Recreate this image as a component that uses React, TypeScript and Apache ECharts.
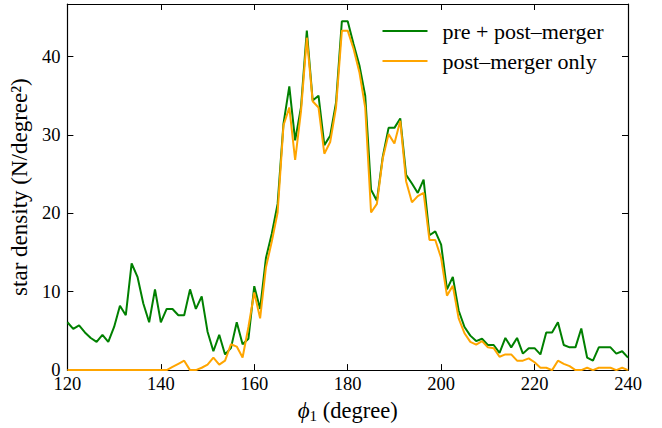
import React, { useEffect, useRef } from "react";
import * as echarts from "echarts";

// phi_1 bin positions (degree)
const phi = [
  120, 121.25, 122.5, 123.75, 125, 126.25, 127.5, 128.75, 130, 131.25,
  132.5, 133.75, 135, 136.25, 137.5, 138.75, 140, 141.25, 142.5, 143.75,
  145, 146.25, 147.5, 148.75, 150, 151.25, 152.5, 153.75, 155, 156.25,
  157.5, 158.75, 160, 161.25, 162.5, 163.75, 165, 166.25, 167.5, 168.75,
  170, 171.25, 172.5, 173.75, 175, 176.25, 177.5, 178.75, 180, 181.25,
  182.5, 183.75, 185, 186.25, 187.5, 188.75, 190, 191.25, 192.5, 193.75,
  195, 196.25, 197.5, 198.75, 200, 201.25, 202.5, 203.75, 205, 206.25,
  207.5, 208.75, 210, 211.25, 212.5, 213.75, 215, 216.25, 217.5, 218.75,
  220, 221.25, 222.5, 223.75, 225, 226.25, 227.5, 228.75, 230, 231.25,
  232.5, 233.75, 235, 236.25, 237.5, 238.75, 240,
];

// star density, pre + post-merger
const prePost = [
  6.1, 5.25, 5.7, 4.8, 4.1, 3.6, 4.5, 3.6, 5.5, 8.2,
  7.0, 13.6, 11.9, 8.5, 6.1, 10.3, 6.1, 7.8, 7.8, 7.0,
  7.0, 10.3, 7.8, 9.4, 4.9, 2.4, 4.5, 2.0, 2.8, 6.1,
  3.3, 4.0, 10.7, 7.8, 14.3, 17.4, 21.2, 31.4, 36.2, 29.3,
  33.5, 43.3, 34.4, 35.0, 28.7, 29.9, 34.1, 44.5, 44.5, 41.6,
  38.9, 35.0, 23.0, 21.6, 27.2, 30.9, 30.9, 32.1, 24.9, 23.8,
  22.6, 24.3, 17.2, 17.7, 16.0, 10.3, 11.9, 7.6, 5.5, 4.4,
  3.7, 4.0, 3.2, 3.2, 2.2, 4.1, 2.9, 4.1, 2.1, 2.8,
  2.8, 2.0, 4.8, 4.8, 6.1, 3.2, 2.9, 2.9, 5.3, 1.6,
  1.2, 2.9, 2.9, 2.9, 2.1, 2.4, 1.6,
];

// star density, post-merger only
const postOnly = [
  0, 0, 0, 0, 0, 0, 0, 0, 0, 0,
  0, 0, 0, 0, 0, 0, 0, 0, 0.4, 0.8,
  1.2, 0, 0, 0.3, 0.7, 1.6, 0.7, 1.2, 3.3, 3.0,
  1.6, 5.5, 9.9, 6.6, 13.1, 16.4, 20.1, 31.2, 33.5, 26.8,
  33.0, 42.4, 34.3, 33.5, 27.6, 29.1, 33.5, 43.3, 43.3, 41.0,
  38.0, 33.5, 20.1, 21.2, 27.0, 30.1, 28.9, 31.8, 24.1, 21.4,
  22.2, 22.6, 16.6, 16.6, 14.3, 9.5, 10.75, 6.6, 4.7, 3.6,
  3.25, 3.7, 2.9, 2.8, 1.7, 2.0, 2.0, 1.2, 1.2, 1.5,
  1.0, 0.3, 0.3, 0, 1.2, 0.8, 0.5, 0, 0, 0.3,
  0, 0.3, 0.3, 0.3, 0, 0.3, 0,
];

const seriesNames = ["pre + post\u2013merger", "post\u2013merger only"];
const seriesColors = ["#008000", "#FFA500"];

const xRange = [120, 240];
const xStep = 20;
const yRange = [0, 46.7];
const yStep = 10;

const FONT = "Liberation Serif";

export default function App() {
  const ref = useRef<HTMLDivElement>(null);

  useEffect(() => {
    if (!ref.current) return;
    document.body.style.margin = "0";
    const chart = echarts.init(ref.current, null, { renderer: "svg" });

    const axisLine = { show: true, onZero: false, lineStyle: { color: "#000", width: 1.2 } };
    const axisTick = { show: true, inside: true, length: 6, lineStyle: { color: "#000", width: 1 } };
    const tickLabel = { color: "#000", fontSize: 18.5, fontFamily: FONT, lineHeight: 14 };

    const option: any = {
      animation: false,
      backgroundColor: "#fff",
      textStyle: { fontFamily: FONT },
      grid: { left: 67, top: 4, width: 561, height: 374, containLabel: false },
      xAxis: [
        {
          type: "value",
          position: "bottom",
          min: xRange[0],
          max: xRange[1],
          interval: xStep,
          axisLine,
          axisTick,
          splitLine: { show: false },
          axisLabel: { ...tickLabel, margin: 7 },
          name: "{i|\u03d5}{s|1} (degree)",
          nameLocation: "middle",
          nameGap: 23,
          nameTextStyle: {
            color: "#000",
            fontSize: 22.5,
            fontFamily: FONT,
            rich: {
              i: { fontSize: 23, fontStyle: "italic", fontFamily: FONT, color: "#000", lineHeight: 26 },
              s: {
                fontSize: 15,
                fontFamily: FONT,
                color: "#000",
                lineHeight: 15,
                verticalAlign: "bottom",
                padding: [8, 0, 0, 0],
              },
            },
          },
        },
        {
          type: "value",
          position: "top",
          min: xRange[0],
          max: xRange[1],
          interval: xStep,
          axisLine,
          axisTick,
          splitLine: { show: false },
          axisLabel: { show: false },
        },
      ],
      yAxis: [
        {
          type: "value",
          position: "left",
          min: yRange[0],
          max: yRange[1],
          interval: yStep,
          axisLine,
          axisTick,
          splitLine: { show: false },
          axisLabel: {
            ...tickLabel,
            margin: 7,
            formatter: (v: number) => (Math.abs(v % yStep) < 1e-9 ? String(v) : ""),
          },
          name: "star density (N/degree\u00b2)",
          nameLocation: "middle",
          nameRotate: 90,
          nameGap: 31,
          nameTextStyle: { color: "#000", fontSize: 23, fontFamily: FONT },
        },
        {
          type: "value",
          position: "right",
          min: yRange[0],
          max: yRange[1],
          interval: yStep,
          axisLine,
          axisTick,
          splitLine: { show: false },
          axisLabel: { show: false },
        },
      ],
      series: [
        {
          name: seriesNames[0],
          type: "line",
          xAxisIndex: 0,
          yAxisIndex: 0,
          data: phi.map((x, i) => [x, prePost[i]]),
          showSymbol: false,
          symbol: "none",
          lineStyle: { color: seriesColors[0], width: 2 },
          itemStyle: { color: seriesColors[0] },
          z: 3,
        },
        {
          name: seriesNames[1],
          type: "line",
          xAxisIndex: 0,
          yAxisIndex: 0,
          data: phi.map((x, i) => [x, postOnly[i]]),
          showSymbol: false,
          symbol: "none",
          lineStyle: { color: seriesColors[1], width: 2 },
          itemStyle: { color: seriesColors[1] },
          z: 4,
        },
      ],
      graphic: seriesNames.map((name, k) => ({
        type: "group",
        left: 380,
        top: 20 + k * 30,
        children: [
          {
            type: "line",
            shape: { x1: 0, y1: 11, x2: 45, y2: 11 },
            style: { stroke: seriesColors[k], lineWidth: 2 },
          },
          {
            type: "text",
            x: 60,
            y: 11,
            style: {
              text: name,
              fill: "#000",
              fontSize: 22,
              fontFamily: FONT,
              verticalAlign: "middle",
            },
          },
        ],
      })),
    };

    chart.setOption(option);
    return () => chart.dispose();
  }, []);

  return (
    <div
      ref={ref}
      style={{ position: "fixed", left: 0, top: 0, width: 662, height: 428, background: "#fff" }}
    />
  );
}
